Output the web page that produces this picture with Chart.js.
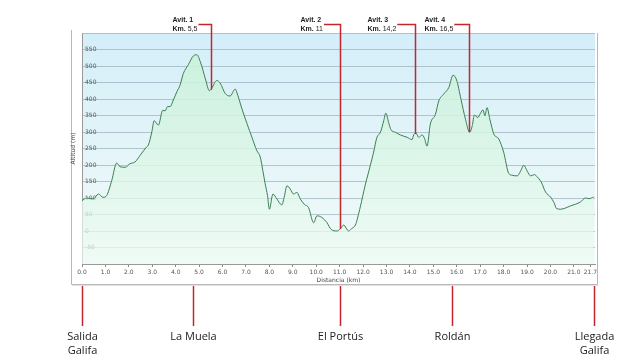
<!DOCTYPE html>
<html>
<head>
<meta charset="utf-8">
<script src="https://cdn.jsdelivr.net/npm/chart.js@4.4.0/dist/chart.umd.min.js"></script>
<style>
  html, body { margin: 0; padding: 0; background: #fff; }
  #grafico { display: block; }
</style>
</head>
<body>
<canvas id="grafico" width="640" height="360"></canvas>
<script>
  // Perfil de la ruta: distancia (km) y altitud (m)
  const distancias = [0, 0.2, 0.48, 0.7, 0.9, 1.05, 1.27, 1.48, 1.62, 1.84, 2.05, 2.26, 2.48, 2.76, 2.83, 2.98,
    3.08, 3.26, 3.45, 3.55, 3.65, 3.76, 3.9, 4.05, 4.19, 4.33, 4.54, 4.76, 4.9, 5.07, 5.26, 5.44, 5.54, 5.75,
    5.9, 6.11, 6.32, 6.54, 6.6, 6.82, 7.04, 7.25, 7.46, 7.61, 7.72, 7.82, 7.92, 8.0, 8.15, 8.32, 8.53, 8.63,
    8.75, 8.89, 9.03, 9.17, 9.32, 9.49, 9.67, 9.89, 10.03, 10.24, 10.46, 10.63, 10.88, 11.02, 11.17, 11.38,
    11.52, 11.67, 11.88, 12.09, 12.31, 12.45, 12.59, 12.74, 12.88, 12.97, 13.09, 13.19, 13.38, 13.59, 13.88,
    14.09, 14.16, 14.26, 14.37, 14.52, 14.62, 14.73, 14.87, 15.09, 15.23, 15.44, 15.66, 15.84, 15.99, 16.18,
    16.37, 16.55, 16.66, 16.75, 16.9, 17.01, 17.12, 17.2, 17.29, 17.41, 17.58, 17.79, 18.0, 18.22, 18.36,
    18.58, 18.72, 18.86, 19.01, 19.15, 19.32, 19.43, 19.6, 19.79, 20.0, 20.15, 20.26, 20.43, 20.85, 21.28,
    21.49, 21.64, 21.85];
  const altitudes = [92, 100, 97, 112, 102, 107, 153, 206, 195, 193, 204, 209, 229, 255, 260, 300,
    334, 321, 366, 364, 377, 377, 397, 422, 443, 478, 504, 531, 534, 509, 463, 425, 433, 456,
    448, 417, 409, 430, 422, 372, 326, 285, 244, 224, 183, 143, 107, 66, 112, 97, 79, 102,
    137, 127, 112, 117, 97, 81, 71, 25, 46, 41, 25, 5, 0, 6, 18, 0,
    8, 18, 73, 139, 199, 239, 284, 299, 334, 357, 329, 307, 299, 291, 284,
    277, 291, 297, 284, 291, 281, 257, 324, 354, 394, 415, 435, 472, 458, 399,
    339, 299, 319, 351, 344, 357, 367, 349, 374, 339, 294, 279, 239, 174, 169,
    167, 181, 199, 181, 167, 171, 164, 149, 118, 103, 86, 68, 66, 76, 88,
    100, 98, 103];

  // Marcas del eje de distancias
  const ticksKm = [0, 1, 2, 3, 4, 5, 6, 7, 8, 9, 10, 11, 12, 13, 14, 15, 16, 17, 18, 19, 20, 21, 21.7];

  // Avituallamientos
  const avitNombres = ['Avit. 1', 'Avit. 2', 'Avit. 3', 'Avit. 4'];
  const avitTextoKm = ['5,5', '11', '14,2', '16,5'];
  const avitKm = [5.5, 11, 14.2, 16.5];
  const avitAltitud = [428, 6, 294, 300];
  const avitDesplaz = [39, 40, 48, 45];

  // Puntos de paso bajo el grafico
  const pasoNombres = [['Salida', 'Galifa'], ['La Muela'], ['El Portús'], ['Roldán'], ['Llegada', 'Galifa']];
  const pasoKm = [0, 4.75, 11, 15.8, 21.85];

  const rojo = '#c4262e';

  // Fondo degradado, marco y anotaciones
  const decoracion = {
    id: 'decoracion',
    beforeDraw(chart) {
      const ctx = chart.ctx;
      const a = chart.chartArea;
      ctx.save();
      const g = ctx.createLinearGradient(0, a.top, 0, a.bottom);
      g.addColorStop(0, '#d4eef9');
      g.addColorStop(1, '#f3fbf8');
      ctx.fillStyle = g;
      ctx.fillRect(a.left, a.top, a.right - a.left, a.bottom - a.top);

      // marco gris
      ctx.strokeStyle = '#b8b8b8';
      ctx.lineWidth = 1;
      ctx.beginPath();
      ctx.moveTo(a.left - 10.5, 30);
      ctx.lineTo(a.left - 10.5, a.bottom + 20.5);
      ctx.lineTo(a.right + 2.5, a.bottom + 20.5);
      ctx.lineTo(a.right + 2.5, a.top);
      ctx.stroke();
      ctx.strokeStyle = '#e2e2e2';
      ctx.beginPath();
      ctx.moveTo(a.left - 10, a.bottom + 21.5);
      ctx.lineTo(a.right + 3, a.bottom + 21.5);
      ctx.stroke();
      ctx.restore();
    },
    afterDraw(chart) {
      const ctx = chart.ctx;
      const a = chart.chartArea;
      const sx = chart.scales.x;
      const sy = chart.scales.y;
      ctx.save();
      ctx.strokeStyle = rojo;
      ctx.lineWidth = 1.5;
      ctx.textBaseline = 'middle';
      ctx.fillStyle = '#222';

      // etiquetas de avituallamiento
      avitKm.forEach((km, i) => {
        const px = Math.round(sx.getPixelForValue(km)) + 0.5;
        const py = sy.getPixelForValue(avitAltitud[i]);
        const tx = px - avitDesplaz[i];
        ctx.textAlign = 'left';
        ctx.font = 'bold 7px "Liberation Sans", sans-serif';
        ctx.fillText(avitNombres[i], tx, 20);
        ctx.fillText('Km.', tx, 29);
        const wKm = ctx.measureText('Km. ').width;
        ctx.font = '7px "Liberation Sans", sans-serif';
        ctx.fillText(avitTextoKm[i], tx + wKm, 29);
        const fin = tx + wKm + ctx.measureText(avitTextoKm[i]).width + 1;
        ctx.beginPath();
        ctx.moveTo(fin, 24.5);
        ctx.lineTo(px, 24.5);
        ctx.lineTo(px, py);
        ctx.stroke();
      });

      // puntos de paso
      ctx.font = '11px "Open Sans", sans-serif';
      ctx.textAlign = 'center';
      pasoKm.forEach((km, i) => {
        const px = Math.round(sx.getPixelForValue(km)) + 0.5;
        ctx.beginPath();
        ctx.moveTo(px, a.bottom + 22);
        ctx.lineTo(px, a.bottom + 62);
        ctx.stroke();
        pasoNombres[i].forEach((t, j) => ctx.fillText(t, px, 337 + j * 14));
      });
      ctx.restore();
    }
  };

  Chart.defaults.font.family = '"DejaVu Sans", sans-serif';

  new Chart(document.getElementById('grafico'), {
    type: 'line',
    data: {
      datasets: [{
        data: distancias.map((d, i) => ({ x: d, y: altitudes[i] })),
        borderColor: '#3d7f55',
        borderWidth: 1,
        pointRadius: 0,
        cubicInterpolationMode: 'monotone',
        fill: 'start',
        backgroundColor: (c) => {
          const a = c.chart.chartArea;
          if (!a) return 'rgba(205,242,220,0.8)';
          const g = c.chart.ctx.createLinearGradient(0, a.top, 0, a.bottom);
          g.addColorStop(0, 'rgba(198,240,216,0.9)');
          g.addColorStop(1, 'rgba(238,251,243,0.7)');
          return g;
        }
      }]
    },
    options: {
      responsive: false,
      animation: false,
      layout: { padding: { left: 70, top: 33, right: 45, bottom: 76 } },
      plugins: { legend: { display: false }, tooltip: { enabled: false } },
      scales: {
        x: {
          type: 'linear',
          min: 0,
          max: 21.9,
          afterBuildTicks: (s) => { s.ticks = ticksKm.map(v => ({ value: v })); },
          afterFit: (s) => { s.height = 20; },
          ticks: {
            callback: (v) => Number(v).toFixed(1),
            font: { size: 6 },
            color: '#555',
            maxRotation: 0,
            autoSkip: false,
            padding: 2
          },
          grid: { drawOnChartArea: false, tickLength: 3, color: '#888' },
          border: { color: '#999' },
          title: { display: true, text: 'Distancia (km)', font: { size: 6 }, color: '#444', padding: 0 }
        },
        y: {
          min: -100,
          max: 600,
          afterFit: (s) => { s.width = 12; },
          ticks: {
            stepSize: 50,
            mirror: true,
            callback: (v) => (v <= -100 || v >= 600) ? '' : v,
            font: { size: 6 },
            color: '#555',
            padding: 3
          },
          grid: { color: 'rgba(140,165,175,0.6)', drawTicks: false },
          border: { color: '#999' },
          title: { display: true, text: 'Altitud (m)', font: { size: 6 }, color: '#444', padding: 0 }
        }
      }
    },
    plugins: [decoracion]
  });
</script>
</body>
</html>
